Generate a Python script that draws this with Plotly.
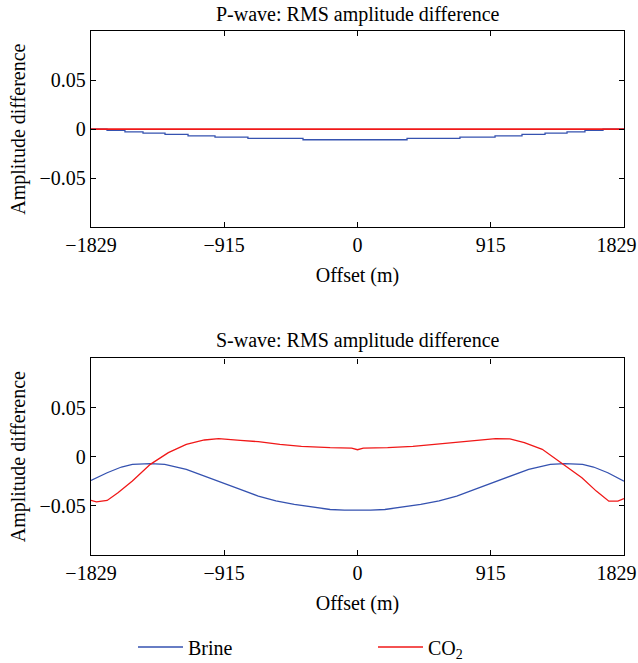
import plotly.graph_objects as go

# ---------------- data ----------------
x_ticks = [-1829, -915, 0, 915, 1829]
x_tick_labels = ["\u22121829", "\u2212915", "0", "915", "1829\u00a0\u00a0\u00a0"]
y_ticks = [-0.05, 0, 0.05]

# P-wave (stepped brine, flat CO2)
p_brine_offset = [-1829, -1719, -1596, -1472, -1321, -1163, -978, -752, -374,
                  340, 703, 944, 1129, 1287, 1438, 1561, 1685, 1829]
p_brine_diff = [0, -0.0013, -0.0027, -0.004, -0.0053, -0.0068, -0.0081, -0.0094, -0.0108,
                -0.0094, -0.0081, -0.0068, -0.0053, -0.004, -0.0027, -0.0013, 0, 0]
p_co2_offset = [-1829, 1829]
p_co2_diff = [0, 0]

# S-wave
s_brine_offset = [-1829, -1718, -1620, -1545, -1422, -1323, -1175, -1050, -928, -800,
                  -681, -560, -434, -310, -188, -90, 0, 90, 188, 310, 434, 560, 681,
                  800, 928, 1050, 1175, 1323, 1422, 1545, 1620, 1718, 1829]
s_brine_diff = [-0.0241, -0.0163, -0.0105, -0.0078, -0.0071, -0.0078, -0.0129, -0.0195,
                -0.0265, -0.0335, -0.0401, -0.0450, -0.0486, -0.0515, -0.0537, -0.0543,
                -0.0544, -0.0543, -0.0537, -0.0515, -0.0486, -0.0450, -0.0401, -0.0335,
                -0.0265, -0.0195, -0.0129, -0.0078, -0.0071, -0.0078, -0.0105, -0.0163,
                -0.0250]
s_co2_offset = [-1829, -1792, -1718, -1644, -1545, -1422, -1298, -1175, -1051, -953,
                -805, -681, -533, -385, -188, -40, 0, 40, 207, 380, 528, 701, 800, 948,
                1046, 1145, 1268, 1392, 1540, 1639, 1725, 1787, 1829]
s_co2_diff = [-0.0445, -0.0459, -0.0445, -0.0367, -0.0248, -0.0078, 0.0041, 0.0126,
              0.0170, 0.0184, 0.0167, 0.0153, 0.0126, 0.0105, 0.0092, 0.0088, 0.0071,
              0.0088, 0.0092, 0.0105, 0.0126, 0.0153, 0.0167, 0.0184, 0.0181, 0.0143,
              0.0075, -0.0061, -0.0214, -0.0350, -0.0452, -0.0452, -0.0425]

BLUE = "#3552b0"
RED = "#f01818"
FONT = "Liberation Serif"
FS = 20

fig = go.Figure()
fig.add_trace(go.Scatter(x=p_brine_offset, y=p_brine_diff, mode="lines", line_shape="hv",
                         line=dict(color=BLUE, width=1.3), name="Brine", legendwidth=180,
                         xaxis="x", yaxis="y", showlegend=True))
fig.add_trace(go.Scatter(x=p_co2_offset, y=p_co2_diff, mode="lines",
                         line=dict(color=RED, width=1.6), name="CO<sub>2</sub>", legendwidth=40,
                         xaxis="x", yaxis="y", showlegend=True))
fig.add_trace(go.Scatter(x=s_brine_offset, y=s_brine_diff, mode="lines",
                         line=dict(color=BLUE, width=1.3), name="Brine",
                         xaxis="x2", yaxis="y2", showlegend=False))
fig.add_trace(go.Scatter(x=s_co2_offset, y=s_co2_diff, mode="lines",
                         line=dict(color=RED, width=1.3), name="CO<sub>2</sub>",
                         xaxis="x2", yaxis="y2", showlegend=False))

xax = dict(range=[-1829, 1829], tickvals=x_ticks, ticktext=x_tick_labels,
           ticks="inside", ticklen=5,
           tickcolor="black", showline=True, linecolor="black", linewidth=1.3,
           mirror="ticks", showgrid=False, zeroline=False, ticklabeloverflow="allow",
           automargin=False,
           tickfont=dict(family=FONT, size=FS, color="black"))
yax = dict(range=[-0.1, 0.1], tickvals=y_ticks, ticks="inside", ticklen=5,
           tickcolor="black", showline=True, linecolor="black", linewidth=1.3,
           mirror="ticks", showgrid=False, zeroline=False, automargin=False,
           tickfont=dict(family=FONT, size=FS, color="black"))

fig.update_layout(
    width=638, height=663,
    margin=dict(l=91, r=14, t=31, b=108, autoexpand=False),
    paper_bgcolor="white", plot_bgcolor="white",
    font=dict(family=FONT, size=FS, color="black"),
    xaxis=dict(xax, anchor="y", domain=[0, 1],
               title=dict(text="Offset (m)", standoff=12, font=dict(family=FONT, size=FS))),
    yaxis=dict(yax, anchor="x", domain=[0.6253, 1],
               title=dict(text="Amplitude difference", standoff=8, font=dict(family=FONT, size=FS))),
    xaxis2=dict(xax, anchor="y2", domain=[0, 1],
                title=dict(text="Offset (m)", standoff=12, font=dict(family=FONT, size=FS))),
    yaxis2=dict(yax, anchor="x2", domain=[0, 0.3752],
                title=dict(text="Amplitude difference", standoff=8, font=dict(family=FONT, size=FS))),
    showlegend=True,
    legend=dict(orientation="h", xref="container", yref="container",
                x=133 / 638, xanchor="left", y=1 - 647 / 663, yanchor="middle",
                itemwidth=45, entrywidthmode="pixels",
                bgcolor="rgba(0,0,0,0)",
                font=dict(family=FONT, size=FS, color="black")),
    annotations=[
        dict(text="P-wave: RMS amplitude difference", xref="paper", yref="paper",
             x=0.5, y=1, yshift=3, xanchor="center", yanchor="bottom", showarrow=False,
             font=dict(family=FONT, size=FS, color="black")),
        dict(text="S-wave: RMS amplitude difference", xref="paper", yref="paper",
             x=0.5, y=0.3752, yshift=4, xanchor="center", yanchor="bottom", showarrow=False,
             font=dict(family=FONT, size=FS, color="black")),
    ],
)

fig.write_html("out.html")
